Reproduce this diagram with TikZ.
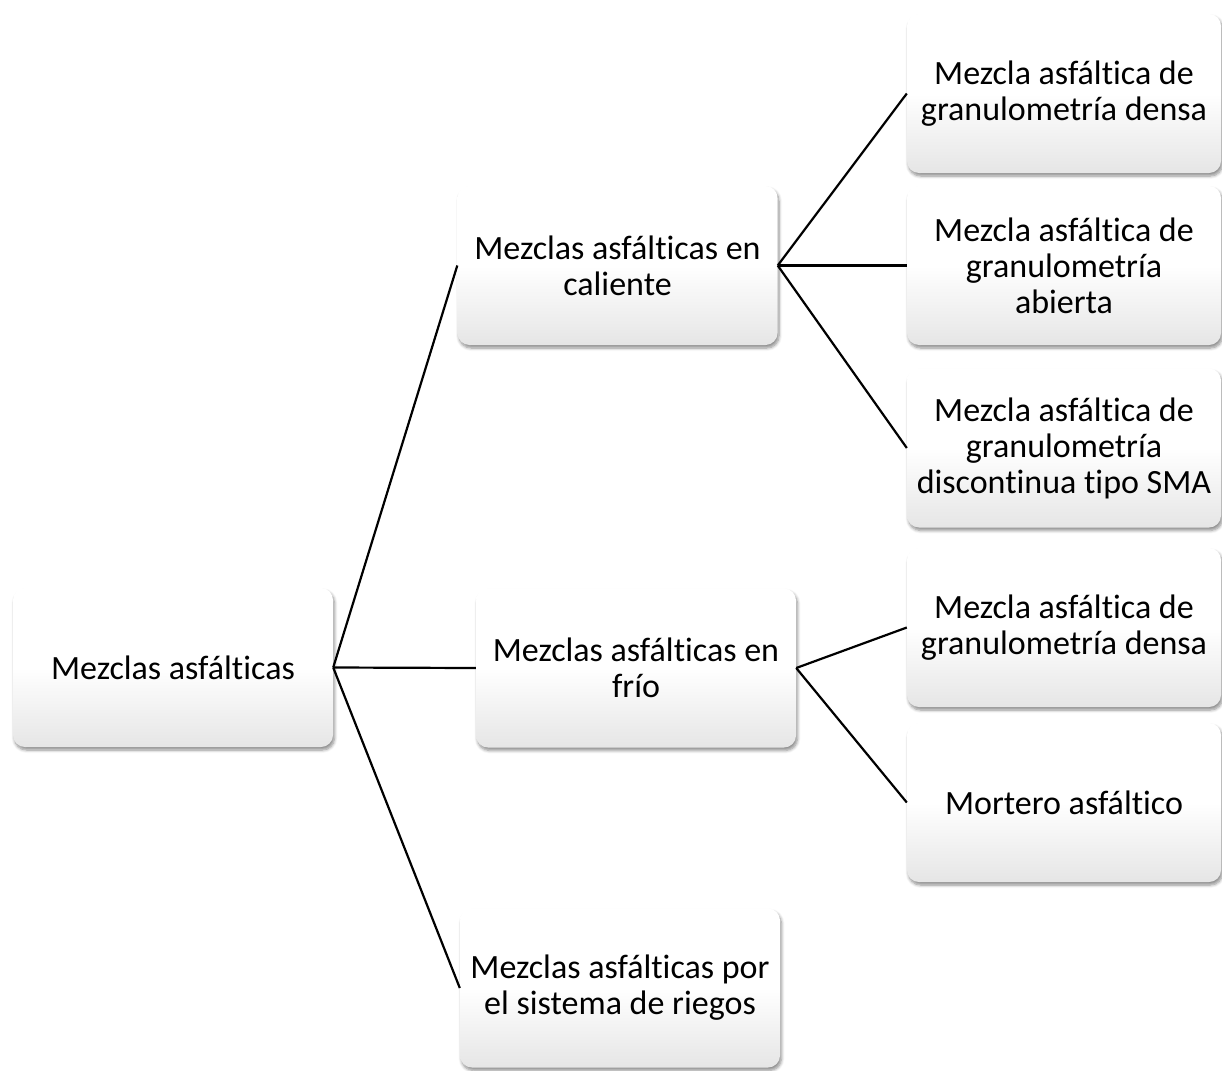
\documentclass[tikz,border=0pt]{standalone}
\usepackage{fontspec}
\setmainfont{Carlito}[Ligatures={NoCommon}]
\usetikzlibrary{shadows.blur}
\tikzset{
  box/.style={rectangle, rounded corners=12pt, inner sep=0pt, align=center,
    top color=white, bottom color=black!10, middle color=white,
    blur shadow={shadow xshift=1.5pt, shadow yshift=-3pt, shadow blur steps=6, shadow opacity=45, shadow blur radius=3pt},
    font=\fontsize{34}{36}\selectfont, text=black},
  midbox/.style={box, minimum width=320pt, minimum height=159pt},
  rbox/.style={box, minimum width=314pt, minimum height=159pt},
  link/.style={draw=black, line width=2.2pt}
}
\begin{document}
\begin{tikzpicture}[x=1pt,y=-1pt]
\useasboundingbox (0,0) rectangle (1222,1070);
\node[midbox] (root) at (173,667.5) {Mezclas asfálticas};
\node[midbox] (cal) at (617.5,265.5) {Mezclas asfálticas en\\caliente};
\node[midbox] (frio) at (636,668) {Mezclas asfálticas en\\frío};
\node[midbox] (rieg) at (620,988) {Mezclas asfálticas por\\el sistema de riegos};
\node[rbox] (r1) at (1064,93.5) {Mezcla asfáltica de\\granulometría densa};
\node[rbox] (r2) at (1064,265.5) {Mezcla asfáltica de\\granulometría\\abierta};
\node[rbox] (r3) at (1064,448) {Mezcla asfáltica de\\granulometría\\discontinua tipo SMA};
\node[rbox] (r4) at (1064,627.5) {Mezcla asfáltica de\\granulometría densa};
\node[rbox] (r5) at (1064,802.5) {Mortero asfáltico};
\draw[link] (root.east) -- (cal.west);
\draw[link] (root.east) -- (frio.west);
\draw[link] (root.east) -- (rieg.west);
\draw[link] (cal.east) -- (r1.west);
\draw[link] (cal.east) -- (r2.west);
\draw[link] (cal.east) -- (r3.west);
\draw[link] (frio.east) -- (r4.west);
\draw[link] (frio.east) -- (r5.west);
\end{tikzpicture}
\end{document}
